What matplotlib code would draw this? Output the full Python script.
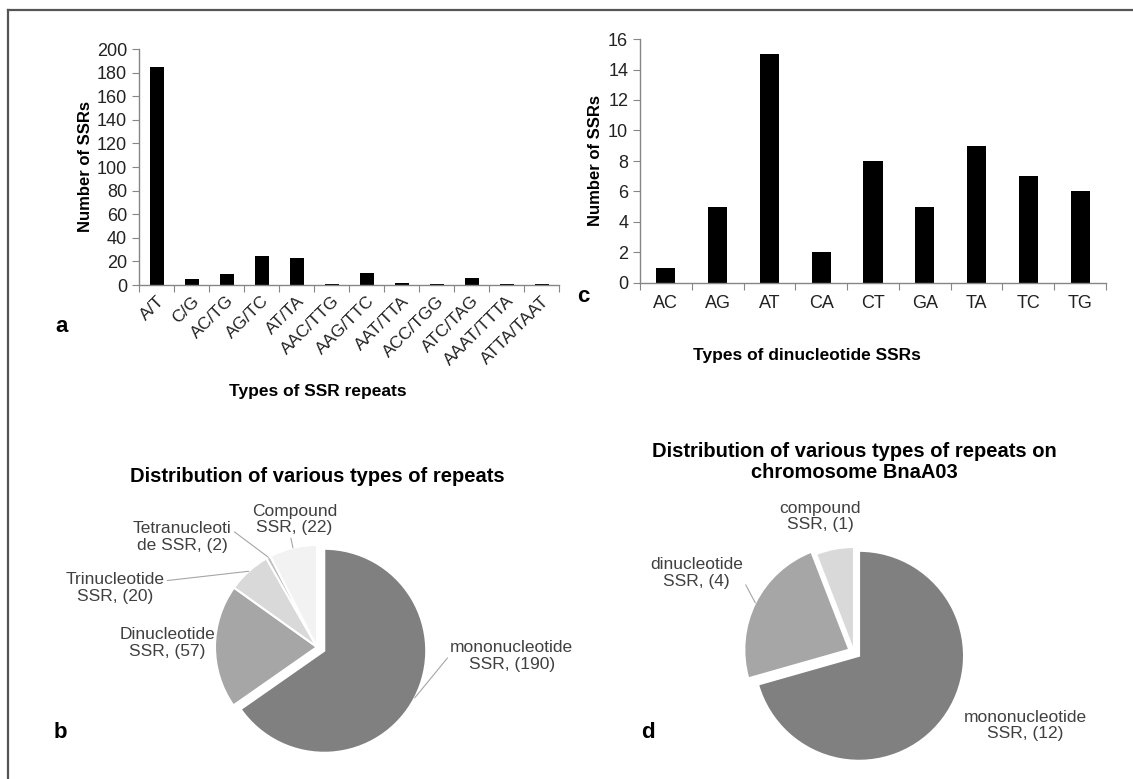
import numpy as np
import matplotlib
matplotlib.use("Agg")
import matplotlib.pyplot as plt
from matplotlib.lines import Line2D

plt.rcParams['font.family'] = ['Liberation Sans', 'DejaVu Sans']

# panel a: all SSR repeat motifs
ssr_types = ["A/T", "C/G", "AC/TG", "AG/TC", "AT/TA", "AAC/TTG", "AAG/TTC",
             "AAT/TTA", "ACC/TGG", "ATC/TAG", "AAAT/TTTA", "ATTA/TAAT"]
ssr_counts = [185, 5, 9, 25, 23, 1, 10, 2, 1, 6, 1, 1]

# panel c: dinucleotide motifs
di_types = ["AC", "AG", "AT", "CA", "CT", "GA", "TA", "TC", "TG"]
di_counts = [1, 5, 15, 2, 8, 5, 9, 7, 6]

# panel b: repeat classes, whole set
rep_labels = ["mononucleotide\nSSR, (190)", "Dinucleotide\nSSR, (57)",
              "Trinucleotide\nSSR, (20)", "Tetranucleoti\nde SSR, (2)",
              "Compound\nSSR, (22)"]
rep_counts = [190, 57, 20, 2, 22]
rep_colors = ["#808080", "#a6a6a6", "#d9d9d9", "#bfbfbf", "#f2f2f2"]

# panel d: repeat classes on BnaA03
a03_labels = ["mononucleotide\nSSR, (12)", "dinucleotide\nSSR, (4)",
              "compound\nSSR, (1)"]
a03_counts = [12, 4, 1]
a03_colors = ["#808080", "#a6a6a6", "#d9d9d9"]

W, H = 1133, 779
fig = plt.figure(figsize=(W / 100, H / 100), dpi=100)


def box(x0, y0, x1, y1):
    return [x0 / W, 1 - y1 / H, (x1 - x0) / W, (y1 - y0) / H]


def style_bar_axis(ax, n):
    for s in ["top", "right"]:
        ax.spines[s].set_visible(False)
    for s in ["left", "bottom"]:
        ax.spines[s].set_color("#868686")
        ax.spines[s].set_linewidth(1.0)
    ax.set_xlim(-0.5, n - 0.5)
    ax.set_xticks(np.arange(n + 1) - 0.5)
    ax.set_xticklabels([])
    ax.tick_params(axis="x", which="major", direction="out", length=5,
                   color="#868686")
    ax.tick_params(axis="x", which="minor", length=0)
    ax.tick_params(axis="y", direction="out", length=5, color="#868686",
                   labelsize=13, labelcolor="#222222")


# --- a ---
ax_a = fig.add_axes(box(139, 49, 559, 285))
xa = np.arange(len(ssr_types))
ax_a.bar(xa, ssr_counts, width=0.4, color="black")
style_bar_axis(ax_a, len(ssr_types))
ax_a.set_ylim(0, 200)
ax_a.set_yticks(np.arange(0, 201, 20))
ax_a.set_xticks(xa, minor=True)
ax_a.set_xticklabels(ssr_types, minor=True, rotation=45, ha="right",
                     va="top", rotation_mode="anchor", fontsize=12.5,
                     color="#222222")
ax_a.tick_params(axis="x", which="minor", pad=6)
ax_a.set_ylabel("Number of SSRs", fontsize=12, fontweight="bold")
ax_a.yaxis.set_label_coords(-0.11, 0.5)
ax_a.set_xlabel("Types of SSR repeats", fontsize=12.5, fontweight="bold")
ax_a.xaxis.set_label_coords(0.426, -0.42)

# --- c ---
ax_c = fig.add_axes(box(640, 39, 1106, 283))
xc = np.arange(len(di_types))
ax_c.bar(xc, di_counts, width=0.37, color="black")
style_bar_axis(ax_c, len(di_types))
ax_c.set_ylim(0, 16)
ax_c.set_yticks(np.arange(0, 17, 2))
ax_c.set_xticks(xc, minor=True)
ax_c.set_xticklabels(di_types, minor=True, fontsize=13, color="#222222")
ax_c.tick_params(axis="x", which="minor", pad=9)
ax_c.set_ylabel("Number of SSRs", fontsize=12, fontweight="bold")
ax_c.yaxis.set_label_coords(-0.079, 0.5)
ax_c.set_xlabel("Types of dinucleotide SSRs", fontsize=12.5, fontweight="bold")
ax_c.xaxis.set_label_coords(0.358, -0.266)


def pie_axis(cx, cy, r, span=2.6):
    ax = fig.add_axes(box(cx - r * span, cy - r * span,
                          cx + r * span, cy + r * span))
    return ax


def finish_pie(ax, span=2.6):
    ax.set_xlim(-span, span)
    ax.set_ylim(-span, span)
    ax.set_aspect("equal")
    ax.axis("off")


def edge_point(w):
    t = np.deg2rad((w.theta1 + w.theta2) / 2)
    return (w.center[0] + w.r * np.cos(t), w.center[1] + w.r * np.sin(t))


lab_kw = dict(fontsize=12.5, color="#404040", ha="center", va="center",
              linespacing=1.15)
lead_kw = dict(arrowstyle="-", color="#a6a6a6", lw=0.8, shrinkA=0, shrinkB=0)

# --- b ---
ax_b = pie_axis(317, 647, 102)
wb, _ = ax_b.pie(rep_counts, colors=rep_colors, startangle=90,
                 counterclock=False, explode=[0.08, 0, 0, 0, 0],
                 wedgeprops=dict(edgecolor="white", linewidth=1.5))
finish_pie(ax_b)
ax_b.set_title("Distribution of various types of repeats", fontsize=14.5,
               fontweight="bold", y=0.5 + 1.59 / 5.2, va="center")
ax_b.annotate(rep_labels[0], xy=edge_point(wb[0]), xytext=(1.91, -0.09),
              arrowprops=dict(lead_kw, relpos=(0.0, 0.55)), **lab_kw)
ax_b.text(-1.47, 0.04, rep_labels[1], **lab_kw)
ax_b.annotate(rep_labels[2], xy=edge_point(wb[2]), xytext=(-1.98, 0.58),
              arrowprops=dict(lead_kw, relpos=(1.0, 0.72)), **lab_kw)
ax_b.annotate(rep_labels[3], xy=edge_point(wb[3]), xytext=(-1.32, 1.08),
              arrowprops=dict(lead_kw, relpos=(1.0, 0.72)), **lab_kw)
ax_b.annotate(rep_labels[4], xy=edge_point(wb[4]), xytext=(-0.22, 1.25),
              arrowprops=dict(lead_kw, relpos=(0.45, 0.0)), **lab_kw)

# --- d ---
ax_d = pie_axis(854, 652, 105)
wd, _ = ax_d.pie(a03_counts, colors=a03_colors, startangle=90,
                 counterclock=False, explode=[0.06, 0.05, 0],
                 wedgeprops=dict(edgecolor="white", linewidth=1.5))
finish_pie(ax_d)
ax_d.set_title("Distribution of various types of repeats on\nchromosome BnaA03",
               fontsize=14.5, fontweight="bold", y=0.5 + 1.73 / 5.2,
               va="center", linespacing=1.1)
ax_d.text(1.63, -0.70, a03_labels[0], **lab_kw)
ax_d.annotate(a03_labels[1], xy=edge_point(wd[1]), xytext=(-1.50, 0.75),
              arrowprops=dict(lead_kw, relpos=(1.0, 0.3)), **lab_kw)
ax_d.text(-0.32, 1.29, a03_labels[2], **lab_kw)

# panel letters
for letter, (px, py) in zip("abcd", [(62, 327), (60, 732), (583, 297), (648, 733)]):
    fig.text(px / W, 1 - py / H, letter, fontsize=16, fontweight="bold",
             ha="center", va="center")

# outer frame (top and left edges)
fig.add_artist(Line2D([8 / W, 1], [1 - 10 / H, 1 - 10 / H], color="#555555",
                      lw=1.6, transform=fig.transFigure))
fig.add_artist(Line2D([8 / W, 8 / W], [0, 1 - 10 / H], color="#555555",
                      lw=1.6, transform=fig.transFigure))

fig.savefig("out.png", dpi=100)
